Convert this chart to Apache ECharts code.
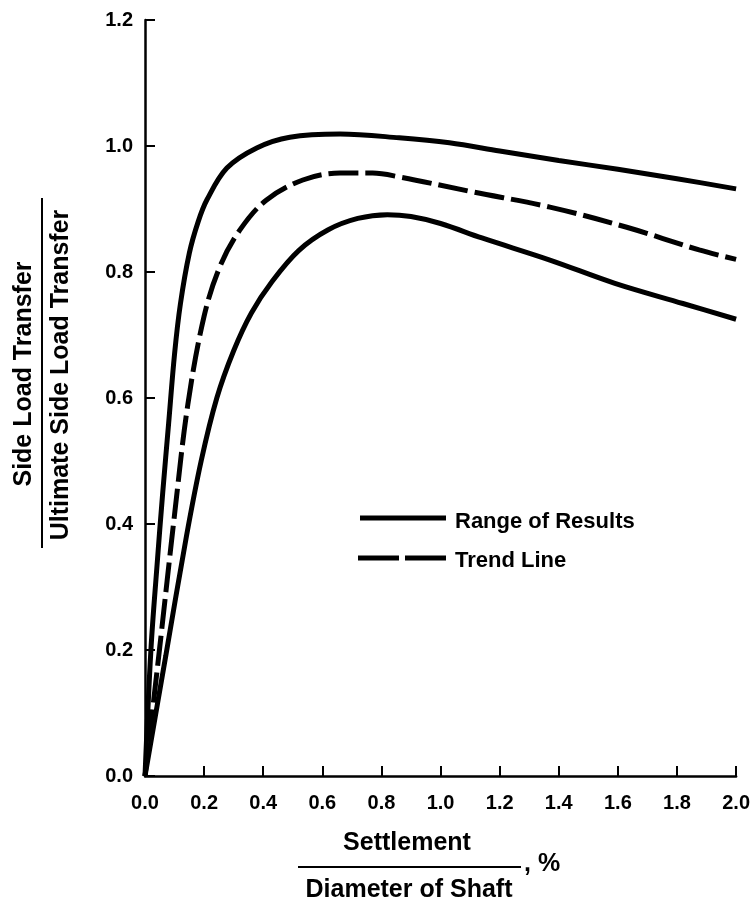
<!DOCTYPE html>
<html><head><meta charset="utf-8">
<script src="https://cdn.jsdelivr.net/npm/echarts@6/dist/echarts.min.js"></script>
<style>html,body{margin:0;padding:0;background:#fff}#c{width:753px;height:902px}</style>
</head><body><div id="c"></div>
<script>
// Settlement / Diameter of Shaft, %  vs  Side Load Transfer / Ultimate
const upperX = [0, 0.02, 0.04, 0.06, 0.08, 0.1, 0.12, 0.15, 0.18, 0.21, 0.277, 0.378, 0.49, 0.66, 0.86, 1.03, 1.2, 1.4, 1.6, 1.8, 2.0];
const upperY = [0, 0.2, 0.33, 0.45, 0.56, 0.67, 0.75, 0.83, 0.88, 0.915, 0.965, 0.997, 1.014, 1.019, 1.013, 1.005, 0.992, 0.977, 0.963, 0.948, 0.932];
const trendX = [0, 0.05, 0.1, 0.145, 0.2, 0.253, 0.32, 0.41, 0.534, 0.66, 0.77, 0.86, 1.11, 1.37, 1.63, 1.875, 2.0];
const trendY = [0, 0.205, 0.415, 0.59, 0.73, 0.808, 0.866, 0.914, 0.946, 0.957, 0.957, 0.951, 0.927, 0.903, 0.871, 0.835, 0.82];
const lowerX = [0, 0.07, 0.14, 0.19, 0.243, 0.3, 0.36, 0.43, 0.52, 0.62, 0.72, 0.82, 0.9, 1.0, 1.14, 1.37, 1.59, 1.82, 2.0];
const lowerY = [0, 0.19, 0.38, 0.5, 0.6, 0.675, 0.735, 0.785, 0.834, 0.867, 0.885, 0.891, 0.888, 0.877, 0.854, 0.819, 0.782, 0.75, 0.725];
const legendNames = ['Range of Results', 'Trend Line'];
const yLabelTop = 'Side Load Transfer';
const yLabelBottom = 'Ultimate Side Load Transfer';
const xLabelTop = 'Settlement';
const xLabelBottom = 'Diameter of Shaft';
const xLabelSuffix = ', %';

const zip = (a, b) => a.map((v, i) => [v, b[i]]);
const FONT = "'Liberation Sans', Arial, Helvetica, sans-serif";
const chart = echarts.init(document.getElementById('c'), null, {renderer: 'canvas'});

const axisCommon = {
  axisLine: {lineStyle: {color: '#000', width: 2.5}},
  axisTick: {inside: true, length: 10, lineStyle: {color: '#000', width: 2}},
  splitLine: {show: false},
  axisLabel: {color: '#000', fontSize: 20, fontWeight: 'bold', fontFamily: FONT, formatter: v => v.toFixed(1)}
};

chart.setOption({
  animation: false,
  backgroundColor: '#fff',
  grid: {left: 145, right: 16, top: 20, bottom: 126},
  xAxis: Object.assign({type: 'value', min: 0, max: 2, interval: 0.2}, axisCommon,
    {axisLabel: Object.assign({}, axisCommon.axisLabel, {margin: 17})}),
  yAxis: Object.assign({type: 'value', min: 0, max: 1.2, interval: 0.2}, axisCommon,
    {axisLabel: Object.assign({}, axisCommon.axisLabel, {margin: 12})}),
  series: [
    {name: legendNames[0], type: 'line', data: zip(upperX, upperY), showSymbol: false, smooth: 0.35,
     lineStyle: {color: '#000', width: 5}},
    {name: legendNames[1], type: 'line', data: zip(trendX, trendY), showSymbol: false, smooth: 0.35,
     lineStyle: {color: '#000', width: 5, type: [30, 7]}},
    {name: legendNames[0] + ' (lower)', type: 'line', data: zip(lowerX, lowerY), showSymbol: false, smooth: 0.35,
     lineStyle: {color: '#000', width: 5}}
  ],
  graphic: [
    // legend
    {type: 'line', shape: {x1: 360, y1: 518, x2: 446, y2: 518}, style: {stroke: '#000', lineWidth: 5}},
    {type: 'line', shape: {x1: 358, y1: 558, x2: 399, y2: 558}, style: {stroke: '#000', lineWidth: 5}},
    {type: 'line', shape: {x1: 405, y1: 558, x2: 446, y2: 558}, style: {stroke: '#000', lineWidth: 5}},
    {type: 'text', x: 455, y: 522, style: {text: legendNames[0], fill: '#000', fontSize: 22, fontWeight: 'bold', fontFamily: FONT, align: 'left', verticalAlign: 'middle'}},
    {type: 'text', x: 455, y: 561, style: {text: legendNames[1], fill: '#000', fontSize: 22, fontWeight: 'bold', fontFamily: FONT, align: 'left', verticalAlign: 'middle'}},
    // y axis label (fraction)
    {type: 'text', x: 24, y: 374, rotation: Math.PI / 2, style: {text: yLabelTop, fill: '#000', fontSize: 25, fontWeight: 'bold', fontFamily: FONT, align: 'center', verticalAlign: 'middle'}},
    {type: 'line', shape: {x1: 42, y1: 198, x2: 42, y2: 548}, style: {stroke: '#000', lineWidth: 2}},
    {type: 'text', x: 61, y: 375, rotation: Math.PI / 2, style: {text: yLabelBottom, fill: '#000', fontSize: 25, fontWeight: 'bold', fontFamily: FONT, align: 'center', verticalAlign: 'middle'}},
    // x axis label (fraction)
    {type: 'text', x: 407, y: 843, style: {text: xLabelTop, fill: '#000', fontSize: 25, fontWeight: 'bold', fontFamily: FONT, align: 'center', verticalAlign: 'middle'}},
    {type: 'line', shape: {x1: 298, y1: 867, x2: 521, y2: 867}, style: {stroke: '#000', lineWidth: 2}},
    {type: 'text', x: 409, y: 890, style: {text: xLabelBottom, fill: '#000', fontSize: 25, fontWeight: 'bold', fontFamily: FONT, align: 'center', verticalAlign: 'middle'}},
    {type: 'text', x: 524, y: 864, style: {text: xLabelSuffix, fill: '#000', fontSize: 25, fontWeight: 'bold', fontFamily: FONT, align: 'left', verticalAlign: 'middle'}}
  ]
});
</script></body></html>
